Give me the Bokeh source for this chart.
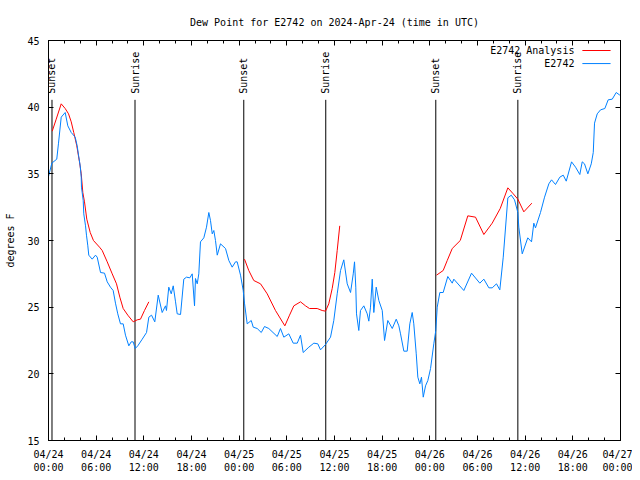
import math
from bokeh.plotting import figure
from bokeh.models import Range1d, FixedTicker, LinearAxis, Label, CustomJSTickFormatter
from bokeh.core.properties import value
from bokeh.embed import file_html
from bokeh.resources import INLINE

FONT = "DejaVu Sans Mono"

title_text = "Dew Point for E2742 on 2024-Apr-24 (time in UTC)"
y_label = "degrees F"

# x tick labels (hours since 2024-04-24 00:00 UTC)
tick_hours = [0, 6, 12, 18, 24, 30, 36, 42, 48, 54, 60, 66, 72]
tick_labels = ["04/24\n00:00", "04/24\n06:00", "04/24\n12:00", "04/24\n18:00",
               "04/25\n00:00", "04/25\n06:00", "04/25\n12:00", "04/25\n18:00",
               "04/26\n00:00", "04/26\n06:00", "04/26\n12:00", "04/26\n18:00",
               "04/27\n00:00"]
y_ticks = [15, 20, 25, 30, 35, 40, 45]

# sunrise / sunset events (hours)
sun_hours = [0.44, 10.89, 24.58, 34.90, 48.75, 59.08]
sun_labels = ["Sunset", "Sunrise", "Sunset", "Sunrise", "Sunset", "Sunrise"]

# observed series E2742
obs_hours = [0.00, 0.42, 1.04, 1.26, 1.60, 2.10, 2.43, 2.86, 3.36, 3.61, 3.78, 3.99,
             4.12, 4.15, 4.37, 4.44, 4.66, 4.78, 4.95, 5.07, 5.50, 5.92, 6.13, 6.55,
             7.05, 7.39, 7.80, 8.14, 8.43, 8.72, 9.06, 9.40, 9.69, 10.11, 10.41, 10.66,
             10.91, 11.24, 11.80, 12.34, 12.63, 12.97, 13.38, 13.81, 14.31, 14.73, 14.85,
             15.14, 15.45, 15.70, 15.99, 16.20, 16.62, 17.03, 17.37, 17.79, 18.09, 18.38,
             18.50, 18.72, 18.92, 19.13, 19.55, 19.89, 20.18, 20.39, 20.61, 20.81, 21.02,
             21.24, 21.65, 22.28, 22.70, 23.12, 23.54, 23.75, 24.17, 24.51, 24.67, 25.01,
             25.52, 25.77, 26.27, 26.78, 27.19, 27.73, 28.79, 29.20, 29.62, 30.25, 30.80,
             31.31, 31.72, 32.06, 32.77, 33.40, 33.90, 34.24, 34.87, 35.50, 35.91, 36.34,
             36.76, 37.17, 37.60, 38.02, 38.36, 38.52, 38.68, 38.77, 39.06, 39.27, 39.69,
             40.12, 40.32, 40.53, 40.75, 40.95, 41.25, 41.58, 42.01, 42.30, 42.71, 43.27,
             43.77, 44.10, 44.31, 44.73, 45.15, 45.48, 45.78, 45.98, 46.29, 46.49, 46.74,
             46.95, 47.17, 47.46, 47.75, 48.09, 48.50, 48.75, 48.93, 49.26, 49.68, 50.26,
             50.82, 51.02, 52.28, 53.25, 54.29, 54.80, 55.43, 55.85, 56.39, 56.81, 57.24,
             57.82, 58.25, 58.66, 59.08, 59.20, 59.63, 60.33, 60.80, 61.09, 61.30, 61.93,
             62.44, 62.98, 63.32, 63.82, 64.36, 64.79, 65.17, 65.84, 66.34, 66.88, 67.18,
             67.47, 67.89, 68.32, 68.57, 68.73, 69.07, 69.49, 70.03, 70.45, 70.96, 71.46,
             71.92]
obs_values = [34.8, 35.8, 36.1, 37.3, 39.25, 39.6, 38.6, 38.1, 37.75, 37.1, 36.4, 35.6,
              34.75, 34.0, 33.0, 32.0, 31.1, 30.4, 29.6, 28.9, 28.6, 28.9, 28.75, 27.6,
              27.55, 26.9, 26.5, 26.25, 25.3, 24.5, 23.75, 23.75, 22.9, 22.1, 22.4, 22.4,
              21.9, 22.1, 22.6, 23.1, 24.25, 24.4, 23.9, 25.9, 24.6, 25.1, 24.75,
              26.5, 26.0, 26.6, 25.4, 24.5, 24.45, 27.1, 27.25, 27.2, 27.5, 25.1,
              27.15, 26.75, 27.5, 29.9, 30.2, 31.0, 32.1, 31.5, 30.5, 30.75, 30.0,
              28.9, 29.75, 29.4, 28.5, 28.0, 28.4, 28.4, 27.4, 26.25, 25.3, 23.75,
              24.0, 23.5, 23.4, 23.1, 23.55, 23.4, 22.8, 23.4, 22.75, 23.0, 22.3,
              22.3, 22.9, 21.6, 22.0, 22.3, 22.25, 21.8, 22.2, 22.75, 24.0, 26.0,
              27.75, 28.55, 26.75, 26.1, 27.5, 28.4, 26.5, 24.5, 23.25, 24.75, 25.1,
              24.5, 23.95, 25.0, 27.1, 24.6, 26.5, 25.5, 24.75, 22.5, 24.0, 23.4,
              24.1, 23.6, 23.0, 21.7, 21.7, 23.75, 24.6, 23.75, 21.5, 19.75, 19.25,
              19.75, 18.25, 19.1, 19.5, 20.4, 22.25, 23.25, 25.0, 26.1, 26.1, 27.3,
              26.8, 27.1, 26.25, 27.55, 26.8, 27.1, 26.45, 26.45, 26.75, 26.3, 28.75,
              33.2, 33.4, 33.05, 32.1, 31.0, 29.0, 30.2, 29.9, 31.3, 30.95, 32.1,
              33.25, 34.25, 34.55, 34.2, 34.75, 34.9, 34.45, 35.9, 35.5, 34.95, 35.9,
              35.75, 35.0, 35.75, 36.6, 38.8, 39.5, 39.8, 39.9, 40.55, 40.6, 41.1,
              40.9]

# analysis series E2742 Analysis (three night segments)
ana_hours_1 = [0.47, 0.97, 1.60, 2.10, 2.52, 2.86, 3.18, 3.56, 3.90, 4.12, 4.32, 4.53,
               4.82, 5.25, 5.66, 6.42, 6.76, 7.39, 8.02, 8.56, 8.98, 9.40, 9.98, 10.66,
               11.17, 11.58, 12.08, 12.63]
ana_values_1 = [38.2, 39.1, 40.25, 39.9, 39.5, 38.9, 38.1, 37.1, 35.9, 35.0, 33.6, 32.9,
                31.6, 30.6, 30.0, 29.5, 29.25, 28.4, 27.5, 26.75, 25.75, 24.9, 24.4, 23.9,
                24.05, 24.1, 24.75, 25.4]
ana_hours_2 = [24.67, 25.21, 25.84, 26.69, 27.53, 28.57, 29.75, 30.34, 30.88, 31.72,
               32.35, 32.85, 33.82, 34.45, 34.87, 35.28, 35.71, 36.04, 36.34, 36.66]
ana_values_2 = [28.6, 27.75, 27.0, 26.75, 26.0, 24.75, 23.6, 24.4, 25.1, 25.4,
                25.1, 24.9, 24.9, 24.75, 24.7, 25.25, 26.4, 27.6, 29.25, 31.1]
ana_hours_3 = [48.84, 49.68, 50.19, 50.82, 51.83, 52.78, 53.75, 54.80, 55.85, 56.86,
               57.82, 58.50, 59.08, 59.83, 60.84]
ana_values_3 = [27.4, 27.75, 28.5, 29.4, 30.0, 31.85, 31.75, 30.45, 31.3, 32.4,
                33.95, 33.5, 33.1, 32.15, 32.8]

RED = "#ff0000"
BLUE = "#0080ff"

p = figure(frame_width=572, frame_height=400, output_backend="svg", toolbar_location=None,
           x_range=Range1d(0, 72), y_range=Range1d(15, 45),
           min_border_left=48, min_border_right=12, min_border_top=40, min_border_bottom=32,
           background_fill_color="white", border_fill_color="white")
p.outline_line_color = "black"
p.grid.visible = False

p.title.text = title_text
p.title.align = "center"
p.title.text_font = FONT
p.title.text_font_size = "10px"
p.title.text_font_style = "normal"
p.title.text_color = "black"
p.title.standoff = 25

xt = FixedTicker(ticks=tick_hours, minor_ticks=list(range(0, 73, 2)))
yt = FixedTicker(ticks=y_ticks)
blank = CustomJSTickFormatter(code="return ''")

def style(ax):
    ax.axis_line_color = "black"
    ax.major_tick_in = 5
    ax.major_tick_out = 0
    ax.minor_tick_in = 3
    ax.minor_tick_out = 0
    ax.major_tick_line_color = "black"
    ax.minor_tick_line_color = "black"
    ax.major_label_text_font = FONT
    ax.major_label_text_font_size = "10px"
    ax.major_label_text_color = "black"

xa = p.xaxis[0]
xa.ticker = xt
style(xa)
xa.major_label_standoff = 8
xa.major_label_overrides = {h: lab for h, lab in zip(tick_hours, tick_labels)}

ya = p.yaxis[0]
ya.ticker = yt
style(ya)
ya.minor_tick_line_color = None
ya.major_label_standoff = 9
ya.axis_label = y_label
ya.axis_label_text_font = FONT
ya.axis_label_text_font_size = "10px"
ya.axis_label_text_font_style = "normal"
ya.axis_label_text_color = "black"
ya.axis_label_standoff = 8

top = LinearAxis(ticker=xt, formatter=blank)
style(top)
top.major_label_standoff = 0
p.add_layout(top, "above")
right = LinearAxis(ticker=yt, formatter=blank)
style(right)
right.major_label_standoff = 0
right.minor_tick_line_color = None
p.add_layout(right, "right")

# sunrise / sunset markers
p.segment(x0=sun_hours, y0=[40.55] * len(sun_hours), x1=sun_hours, y1=[15] * len(sun_hours),
          line_color="black", line_width=1)
p.text(x=sun_hours, y=[41.0] * len(sun_hours), text=sun_labels, angle=math.pi / 2,
       text_align="left", text_baseline="middle", text_font=value(FONT),
       text_font_size="10px", text_color="black")

# data lines
for hh, vv in [(ana_hours_1, ana_values_1), (ana_hours_2, ana_values_2), (ana_hours_3, ana_values_3)]:
    p.line(hh, vv, line_color=RED, line_width=1)
p.line(obs_hours, obs_values, line_color=BLUE, line_width=1)

# legend (gnuplot style: text then sample)
for name, col, yy in [("E2742 Analysis", RED, 44.25), ("E2742", BLUE, 43.27)]:
    p.add_layout(Label(x=66.2, y=yy, text=name, text_align="right", text_baseline="middle",
                       text_font=FONT, text_font_size="10px", text_color="black"))
    p.segment(x0=[67.2], y0=[yy], x1=[70.75], y1=[yy], line_color=col, line_width=1)

open("out.html", "w").write(file_html(p, INLINE))
